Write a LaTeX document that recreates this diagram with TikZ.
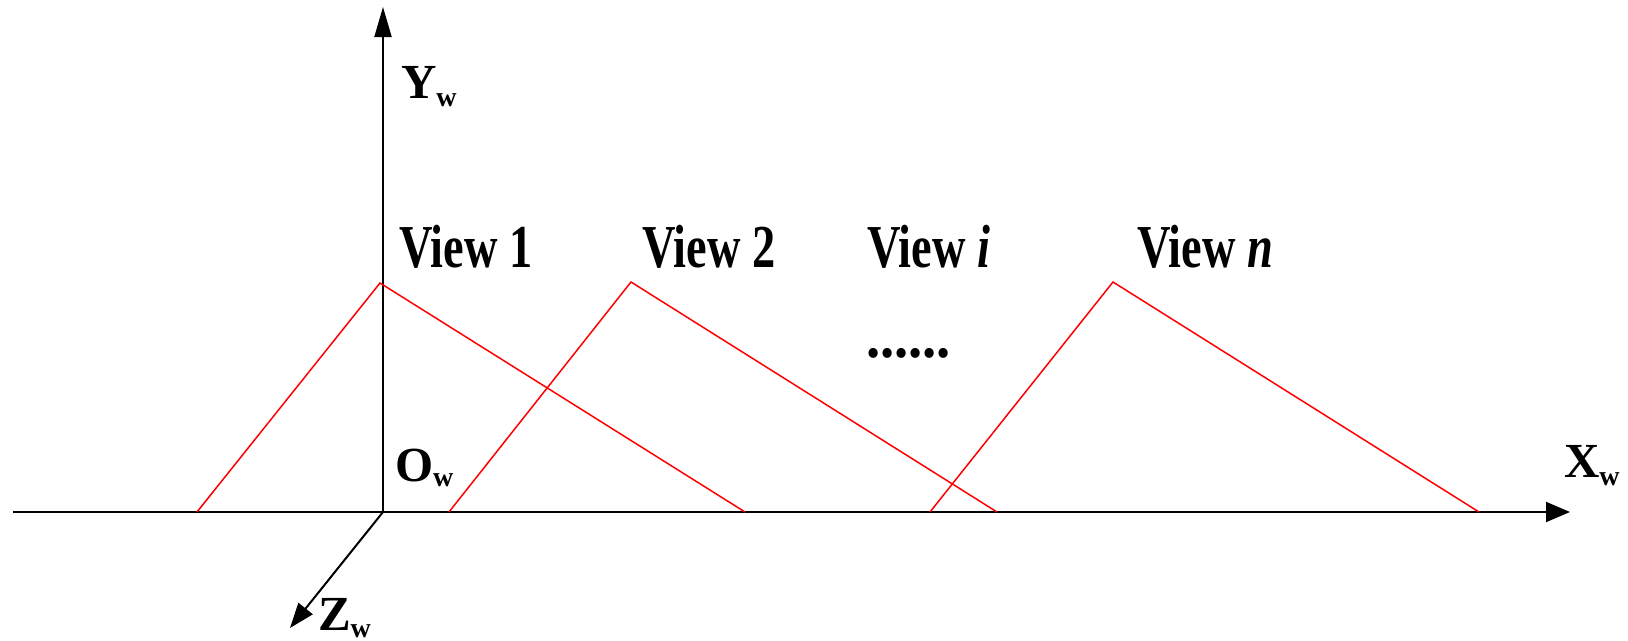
\documentclass[tikz,border=0pt]{standalone}
\usepackage{fontspec}
\setmainfont{Liberation Serif}
\usepackage{graphicx}
\usetikzlibrary{arrows.meta}
% lowered bold subscript "w" for the axis names
\newcommand\axsub[1]{\raisebox{-#1pt}{\fontsize{28}{28}\selectfont\bfseries w}}
\begin{document}
\begin{tikzpicture}[x=1pt,y=-1pt,
  axis/.style={line width=2pt, black},
  ytip/.style={-{Triangle[length=30pt,width=17pt]}},
  xtip/.style={-{Triangle[length=24pt,width=20pt]}},
  ztip/.style={-{Triangle[length=25pt,width=18pt]}},
  viewline/.style={line width=1.5pt, red, line join=miter},
  axislabel/.style={anchor=base west, inner sep=0pt, outer sep=0pt,
                    font=\fontsize{49}{49}\selectfont\bfseries},
  viewlabel/.style={anchor=base west, inner sep=0pt, outer sep=0pt,
                    font=\fontsize{61}{61}\selectfont\bfseries},
]
\useasboundingbox (0,0) rectangle (1628,640);

% world frame
\coordinate (O)    at (383,512);
\coordinate (xneg) at (13,512);
\coordinate (xend) at (1570,512);
\coordinate (yend) at (383,7);
\coordinate (zend) at (290,628);

\draw[axis] (xneg) -- (O);
\draw[axis,xtip] (O) -- (xend);
\draw[axis,ytip] (O) -- (yend);
\draw[axis,ztip] (O) -- (zend);

\node[axislabel] (ylab) at (401,98)  {Y\axsub{8}};
\node[axislabel] (xlab) at (1564,477) {X\axsub{8}};
\node[axislabel] (zlab) at (318,630) {Z\axsub{7}};
\node[axislabel] (olab) at (395,481) {O\axsub{5}};

% viewing frusta seen from the side
\coordinate (v1l) at (197,512);  \coordinate (v1t) at (380,283);  \coordinate (v1r) at (745,512);
\coordinate (v2l) at (449,512);  \coordinate (v2t) at (631,282);  \coordinate (v2r) at (997,512);
\coordinate (vnl) at (930,512);  \coordinate (vnt) at (1113,282); \coordinate (vnr) at (1479,512);

\draw[viewline] (v1l) -- (v1t) -- (v1r);
\draw[viewline] (v2l) -- (v2t) -- (v2r);
\draw[viewline] (vnl) -- (vnt) -- (vnr);

\node[viewlabel] (view1) at (399,267)  {\scalebox{0.76}[1]{View 1}};
\node[viewlabel] (view2) at (642,267)  {\scalebox{0.76}[1]{View 2}};
\node[viewlabel] (viewi) at (867,267)  {\scalebox{0.76}[1]{View \textit{i}}};
\node[viewlabel] (viewn) at (1137,267) {\scalebox{0.76}[1]{View \textit{n}}};
\node[viewlabel] (dots)  at (866,357)  {\scalebox{0.93}[1]{......}};
\end{tikzpicture}
\end{document}
